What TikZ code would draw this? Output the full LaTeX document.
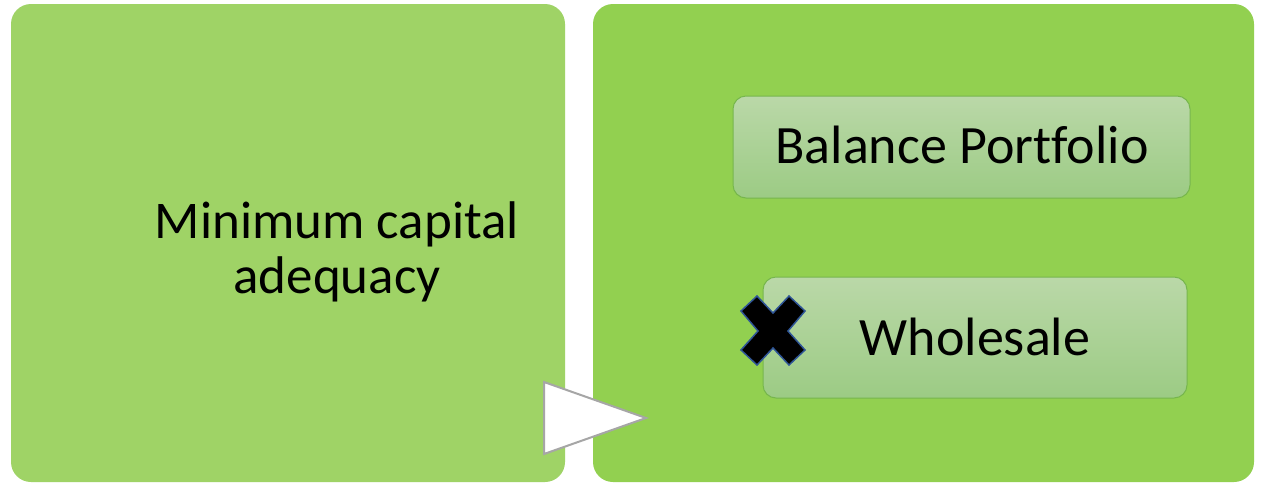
\documentclass[tikz,border=0pt]{standalone}
\usepackage{fontspec}
\setmainfont{Carlito}[Ligatures={NoCommon}]
\begin{document}
\begin{tikzpicture}[x=1pt,y=-1pt,
  bigbox/.style={rectangle,rounded corners=20pt,inner sep=0pt,draw=none},
  subbox/.style={rectangle,rounded corners=13pt,inner sep=0pt,draw=subborder,line width=1pt,top color=subtop,bottom color=subbot},
  lbl/.style={inner sep=0pt,font=\fontsize{54}{60}\selectfont,text=black}]
\definecolor{leftgreen}{HTML}{9FD366}
\definecolor{rightgreen}{HTML}{92D050}
\definecolor{subtop}{HTML}{BAD8A8}
\definecolor{subbot}{HTML}{9CCB84}
\definecolor{subborder}{HTML}{76B64C}
\definecolor{trigray}{HTML}{A6A6A6}
\definecolor{xblue}{HTML}{2F5597}
\useasboundingbox (0,0) rectangle (1266,483);
\fill[white] (0,0) rectangle (1266,483);
% big boxes
\node[bigbox,fill=leftgreen,minimum width=554pt,minimum height=478pt] (left) at (288,243) {};
\node[bigbox,fill=rightgreen,minimum width=661pt,minimum height=478pt] (right) at (923.5,243) {};
% left text
\node[lbl,font=\fontsize{53}{55}\selectfont,anchor=base] (minA) at (337,238) {Minimum capital};
\node[lbl,font=\fontsize{53}{55}\selectfont,anchor=base] (minB) at (337,293) {adequacy};
% inner boxes
\node[subbox,minimum width=457pt,minimum height=102pt] (bal) at (961.5,147) {};
\node[lbl,anchor=base] (balt) at (962,163) {Balance Portfolio};
\node[subbox,minimum width=424pt,minimum height=121pt] (whole) at (975,337.5) {};
\node[lbl,anchor=base] (wholet) at (975,355) {Wholesale};
% arrow triangle
\draw[fill=white,draw=trigray,line width=2pt,line join=miter] (544,382) -- (646,418) -- (544,454) -- cycle;
% cross mark
\draw[fill=black,draw=xblue,line width=1.5pt,line join=miter]
  (741,311) -- (757,296) -- (773,313) -- (789,296) -- (805,311) -- (788,331)
  -- (805,350) -- (789,365) -- (773,348) -- (757,365) -- (741,350) -- (758,331) -- cycle;
\end{tikzpicture}
\end{document}
